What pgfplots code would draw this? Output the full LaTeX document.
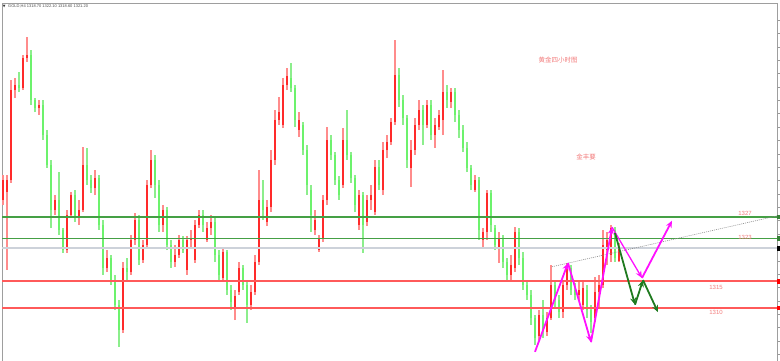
\documentclass[border=0pt]{standalone}
\usepackage{pgfplots}
\pgfplotsset{compat=1.18}
\usepackage{pgfplotstable}
\usetikzlibrary{arrows.meta}
\usepackage{fontspec}
\setmainfont{Liberation Sans}
\newfontfamily\cjk{Noto Sans CJK SC}
\newfontfamily\sym{DejaVu Sans}

\definecolor{bullbody}{HTML}{FF2A2A}
\definecolor{bullwick}{HTML}{FF8C8C}
\definecolor{bearbody}{HTML}{6CF26C}
\definecolor{bearwick}{HTML}{8CEE8C}
\definecolor{resline}{HTML}{45A045}
\definecolor{supline}{HTML}{FF5A5A}
\definecolor{bidline}{HTML}{CDD2DA}
\definecolor{lbl}{HTML}{F27C7C}
\definecolor{swing}{HTML}{FF10FF}
\definecolor{alt}{HTML}{1F7A1F}

% GOLD H4 candles: index, open, high, low, close
\pgfplotstableread{
i o h l c
0 1330.2 1334.9 1329.2 1333.9
1 1331.7 1334.9 1317.1 1333.9
2 1333.9 1352.6 1333.4 1350.7
3 1350.7 1353.0 1349.2 1351.7
4 1351.7 1354.1 1350.4 1351.1
5 1351.1 1357.3 1350.7 1356.7
6 1356.7 1360.6 1356.0 1357.3
7 1357.3 1358.2 1347.9 1348.9
8 1348.9 1349.2 1346.6 1347.4
9 1347.4 1348.9 1346.1 1347.9
10 1347.9 1348.9 1341.4 1342.3
11 1342.3 1343.3 1336.2 1336.7
12 1336.7 1337.7 1324.9 1328.3
13 1328.3 1331.1 1327.4 1330.2
14 1330.2 1335.4 1323.6 1324.6
15 1324.6 1324.9 1320.3 1320.8
16 1320.8 1328.3 1320.3 1327.4
17 1327.4 1331.7 1326.8 1331.1
18 1331.1 1332.0 1326.1 1326.8
19 1326.8 1330.2 1325.5 1328.3
20 1328.3 1340.1 1327.9 1336.7
21 1336.7 1339.9 1333.0 1333.9
22 1333.9 1334.9 1331.5 1332.4
23 1332.4 1335.8 1331.1 1334.3
24 1334.3 1334.9 1324.6 1325.5
25 1325.5 1326.4 1316.2 1317.5
26 1317.5 1320.8 1316.7 1319.3
27 1319.3 1319.9 1314.3 1315.2
28 1315.2 1316.2 1309.6 1310.6
29 1310.6 1311.5 1302.7 1305.9
30 1305.9 1318.6 1305.3 1317.5
31 1317.5 1319.3 1315.2 1316.7
32 1316.7 1323.6 1316.2 1322.7
33 1322.7 1327.7 1321.8 1326.4
34 1326.4 1327.4 1318.0 1319.0
35 1319.0 1322.7 1318.4 1321.8
36 1321.8 1333.9 1321.2 1333.0
37 1333.0 1339.5 1332.4 1337.7
38 1337.7 1338.6 1330.6 1333.0
39 1333.0 1333.9 1324.2 1325.5
40 1325.5 1329.2 1324.2 1328.3
41 1328.3 1328.9 1320.8 1321.8
42 1321.8 1322.7 1317.5 1318.6
43 1318.6 1321.8 1317.7 1319.9
44 1319.9 1323.6 1319.3 1322.7
45 1322.7 1323.4 1320.3 1320.8
46 1317.1 1323.4 1316.2 1322.7
47 1322.7 1324.6 1321.2 1323.1
48 1319.0 1326.4 1318.4 1325.5
49 1325.5 1328.3 1324.9 1327.4
50 1327.4 1328.3 1324.2 1325.5
51 1322.7 1326.1 1322.3 1324.9
52 1324.9 1327.4 1323.6 1326.1
53 1326.1 1326.8 1318.6 1319.9
54 1319.9 1320.8 1314.9 1316.2
55 1315.6 1321.2 1314.9 1320.5
56 1320.5 1320.8 1312.4 1313.4
57 1313.4 1314.3 1309.6 1311.1
58 1310.0 1313.4 1307.7 1312.2
59 1313.0 1318.6 1312.4 1317.5
60 1317.5 1318.0 1313.4 1314.3
61 1314.3 1315.2 1307.2 1310.6
62 1310.6 1314.3 1309.6 1313.0
63 1313.0 1319.9 1312.4 1318.6
64 1318.6 1335.8 1318.0 1330.2
65 1330.2 1333.9 1326.4 1328.3
66 1326.1 1330.2 1325.3 1328.9
67 1328.9 1339.5 1327.9 1337.7
68 1337.7 1347.0 1336.7 1345.1
69 1345.1 1349.4 1344.2 1346.6
70 1344.2 1353.0 1343.6 1351.7
71 1351.7 1354.9 1350.7 1353.4
72 1353.0 1355.8 1350.4 1351.1
73 1351.1 1351.7 1343.8 1345.1
74 1343.3 1346.6 1342.0 1345.1
75 1344.2 1344.8 1338.6 1339.5
76 1339.5 1340.5 1331.1 1333.0
77 1332.0 1333.0 1324.2 1327.4
78 1324.6 1328.3 1323.6 1326.4
79 1320.8 1323.6 1320.5 1323.1
80 1323.1 1331.1 1322.3 1330.2
81 1330.2 1343.8 1329.2 1341.4
82 1341.4 1342.3 1337.7 1338.6
83 1338.6 1339.1 1333.0 1333.9
84 1333.9 1334.7 1330.2 1331.1
85 1333.0 1343.6 1332.4 1341.4
86 1341.4 1347.0 1337.7 1338.6
87 1338.6 1339.1 1333.4 1334.3
88 1334.3 1334.9 1327.9 1329.2
89 1325.5 1332.0 1324.6 1331.1
90 1331.1 1331.7 1320.3 1325.5
91 1326.1 1331.1 1325.3 1330.2
92 1330.2 1333.0 1328.3 1331.1
93 1327.9 1337.7 1327.4 1336.3
94 1336.3 1337.7 1332.0 1333.0
95 1332.0 1341.0 1331.1 1339.5
96 1339.5 1342.3 1338.0 1341.0
97 1341.0 1345.5 1340.5 1344.8
98 1344.8 1360.1 1344.2 1353.5
99 1353.5 1354.9 1347.6 1348.9
100 1348.9 1349.8 1344.2 1345.5
101 1345.5 1346.1 1336.2 1337.7
102 1336.2 1341.4 1332.6 1339.5
103 1339.5 1345.5 1338.6 1344.2
104 1344.2 1348.9 1343.3 1347.0
105 1347.0 1347.9 1340.5 1344.2
106 1344.2 1348.9 1343.6 1347.9
107 1347.9 1348.9 1341.4 1342.3
108 1342.3 1345.5 1339.9 1344.2
109 1343.8 1347.0 1343.3 1346.1
110 1345.1 1354.5 1342.3 1350.4
111 1350.4 1351.7 1347.4 1348.9
112 1348.5 1351.1 1347.4 1350.4
113 1350.4 1351.1 1344.8 1346.1
114 1346.1 1347.0 1341.8 1343.3
115 1343.3 1344.2 1339.1 1339.9
116 1339.9 1341.0 1335.4 1336.2
117 1336.2 1336.7 1332.0 1333.0
118 1332.0 1334.9 1331.7 1333.9
119 1333.9 1334.5 1322.7 1324.6
120 1322.7 1324.9 1321.4 1324.2
121 1324.2 1332.0 1322.7 1331.5
122 1331.5 1332.0 1324.2 1325.5
123 1324.9 1325.5 1320.8 1321.8
124 1321.2 1324.2 1318.4 1323.1
125 1323.1 1323.6 1317.5 1318.6
126 1318.6 1319.3 1314.9 1316.2
127 1316.2 1319.9 1315.2 1318.0
128 1317.5 1325.1 1316.7 1324.2
129 1324.2 1324.9 1318.0 1319.3
130 1319.3 1320.5 1313.4 1314.3
131 1314.3 1315.2 1311.5 1312.4
132 1312.4 1313.4 1306.8 1308.1
133 1308.1 1308.7 1303.1 1304.4
134 1304.8 1309.6 1304.0 1308.7
135 1308.7 1311.5 1304.4 1305.9
136 1305.5 1309.2 1304.8 1308.1
137 1308.1 1318.0 1307.7 1314.3
138 1314.3 1315.2 1310.0 1311.5
139 1311.5 1312.4 1308.1 1309.2
140 1309.2 1315.2 1308.1 1314.3
141 1314.3 1318.4 1313.4 1317.5
142 1317.5 1318.0 1312.4 1313.4
143 1313.4 1314.7 1311.5 1312.4
144 1312.4 1315.2 1311.5 1313.4
145 1310.6 1314.9 1309.6 1313.7
146 1313.4 1314.3 1308.1 1309.6
147 1309.6 1310.6 1305.3 1307.4
148 1308.1 1315.8 1307.4 1313.0
149 1313.0 1316.2 1310.2 1314.3
150 1314.3 1324.6 1313.7 1321.8
151 1320.8 1324.2 1318.0 1322.7
152 1319.9 1325.5 1318.6 1324.9
153 1324.6 1325.1 1318.6 1319.3
154 1318.7 1322.1 1318.6 1321.2
}\gold

\begin{document}
\begin{tikzpicture}
\useasboundingbox (0,0) rectangle (780pt,361pt);
\begin{axis}[
  scale only axis, width=775pt, height=368pt,
  anchor=north west, at={(2pt,358pt)},
  xmin=-0.25, xmax=193.5, ymin=1298.21, ymax=1367.0,
  clip=false,
  axis line style={draw=black!38, line width=0.9pt},
  xtick=\empty,
  ytick={1298.8,1301.3,...,1363.8},
  ytick pos=right, tick align=outside,
  major tick length=2.5pt,
  tick style={draw=black!40, line width=0.6pt},
  yticklabel style={font=\fontsize{5}{6}\selectfont, text=lbl, inner sep=0pt, xshift=0.5pt},
  /pgf/number format/fixed, /pgf/number format/precision=2,
  /pgf/number format/fixed zerofill, /pgf/number format/assume math mode=true,
]
% wicks (high-low range)
\addplot[draw=bullwick, line width=1.2pt,
  quiver={u=0, v=\thisrow{h}-\thisrow{l}, every arrow/.append style={draw=bullwick, line width=1.2pt}}]
  table[x=i, y expr={\thisrow{c}>\thisrow{o} ? \thisrow{l} : nan}] {\gold};
\addplot[draw=bearwick, line width=1.2pt,
  quiver={u=0, v=\thisrow{h}-\thisrow{l}, every arrow/.append style={draw=bearwick, line width=1.2pt}}]
  table[x=i, y expr={\thisrow{c}<\thisrow{o} ? \thisrow{l} : nan}] {\gold};
% bodies (open-close range)
\addplot[draw=bullbody, line width=2.3pt,
  quiver={u=0, v=\thisrow{c}-\thisrow{o}, every arrow/.append style={draw=bullbody}}]
  table[x=i, y expr={\thisrow{c}>\thisrow{o} ? \thisrow{o} : nan}] {\gold};
\addplot[draw=bearbody, line width=2.3pt,
  quiver={u=0, v=\thisrow{o}-\thisrow{c}, every arrow/.append style={draw=bearbody}}]
  table[x=i, y expr={\thisrow{c}<\thisrow{o} ? \thisrow{c} : nan}] {\gold};

% support / resistance levels and current bid
\addplot[resline, line width=1.4pt] coordinates {(-0.25,1327) (193.5,1327)};
\addplot[resline, line width=1.4pt] coordinates {(-0.25,1323) (193.5,1323)};
\addplot[bidline, line width=1.3pt] coordinates {(-0.25,1321.2) (193.5,1321.2)};
\addplot[supline, line width=1.7pt] coordinates {(-0.25,1315) (193.5,1315)};
\addplot[supline, line width=1.7pt] coordinates {(-0.25,1310) (193.5,1310)};

% price markers on the scale
\addplot[only marks, mark=square*, mark size=1.7pt, mark options={xscale=0.6}, color=resline!80!black]
  coordinates {(193.9,1327) (193.9,1323)};
\addplot[only marks, mark=square*, mark size=1.7pt, mark options={xscale=0.6}, color=black]
  coordinates {(193.9,1321.2)};
\addplot[only marks, mark=square*, mark size=1.7pt, mark options={xscale=0.6}, color=red]
  coordinates {(193.9,1315) (193.9,1310)};

% rising trendline
\addplot[black!45, line width=0.6pt, dash pattern=on 1pt off 1pt]
  coordinates {(137.25,1317.7) (193.5,1327.2)};

% projected swings
\addplot[swing, line width=1.8pt, -{Stealth[length=7pt,width=6pt]}] coordinates {(133,1301.8) (141.25,1318.4)};
\addplot[swing, line width=1.8pt, -{Stealth[length=7pt,width=6pt]}] coordinates {(141.25,1318.4) (147,1303.6)};
\addplot[swing, line width=1.8pt, -{Stealth[length=7pt,width=6pt]}] coordinates {(147,1303.6) (152.25,1325.1)};
\addplot[swing, line width=1.3pt, -{Stealth[length=7pt,width=6pt]}] coordinates {(152.25,1325.1) (159.75,1315.6)};
\addplot[swing, line width=1.8pt, -{Stealth[length=7pt,width=6pt]}] coordinates {(159.75,1315.6) (167.25,1326.3)};

\addplot[alt, line width=1.8pt, -{Stealth[length=7pt,width=6pt]}] coordinates {(153,1324.0) (158,1310.6)};
\addplot[alt, line width=1.8pt, -{Stealth[length=7pt,width=6pt]}] coordinates {(158,1310.6) (160,1315.2)};
\addplot[alt, line width=1.8pt, -{Stealth[length=7pt,width=6pt]}] coordinates {(160,1315.2) (163.75,1309.2)};

% level labels
\node[text=lbl, font=\fontsize{6}{7}\selectfont, inner sep=0pt] at (axis cs:185.5,1327.6) {1327};
\node[text=lbl, font=\fontsize{6}{7}\selectfont, inner sep=0pt] at (axis cs:185.5,1323.1) {1323};
\node[text=lbl, font=\fontsize{6}{7}\selectfont, inner sep=0pt] at (axis cs:178.25,1313.9) {1315};
\node[text=lbl, font=\fontsize{6}{7}\selectfont, inner sep=0pt] at (axis cs:178.25,1309.1) {1310};

% titles
\node[text=lbl, font=\cjk\fontsize{6.5}{7}\selectfont, inner sep=0pt] at (axis cs:138.75,1356.3) {黄金四小时图};
\node[text=lbl, font=\cjk\fontsize{6.5}{7}\selectfont, inner sep=0pt] at (axis cs:145.75,1338.2) {金丰要};

% symbol header
\node[font=\sym\fontsize{3.5}{4}\selectfont, inner sep=0pt, text=black!80] at (axis cs:0.3,1366.4) {▼};
\node[anchor=west, font=\fontsize{4}{5}\selectfont, text=black!70, inner sep=0pt] at (axis cs:1.25,1366.4) {GOLD,H4 1318.70 1322.10 1318.60 1321.20};
\end{axis}
\end{tikzpicture}
\end{document}
